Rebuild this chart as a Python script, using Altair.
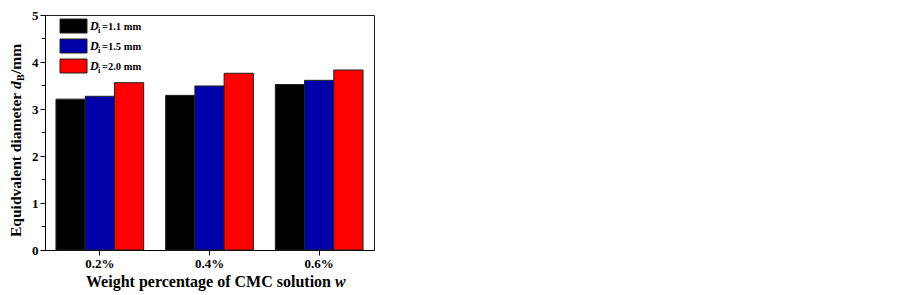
import altair as alt
import pandas as pd

# ---- data ----
categories = ["0.2%", "0.4%", "0.6%"]
series = ["1.1", "1.5", "2.0"]
values_11 = [3.21, 3.29, 3.52]
values_15 = [3.27, 3.49, 3.61]
values_20 = [3.56, 3.76, 3.83]
colors = ["#000000", "#0000a8", "#ff0000"]
y_ticks = [0, 1, 2, 3, 4, 5]
y_minor = [0.5, 1.5, 2.5, 3.5, 4.5]

rows = []
for s, vals in zip(series, [values_11, values_15, values_20]):
    for c, v in zip(categories, vals):
        rows.append({"w": c, "D": s, "d": v})
df = pd.DataFrame(rows)

FONT = "Liberation Serif"
W, H = 329, 235
TOP = 7  # plot top sits at page y = 8 + TOP

y_axis = alt.Axis(title=None, values=y_ticks, tickSize=5, labelPadding=2,
                  labelFontSize=13, labelFont=FONT, labelFontWeight="bold",
                  labelColor="black", domainColor="black", tickColor="black",
                  grid=False)
y_scale = alt.Scale(domain=[0, 5], nice=False)

bars = alt.Chart(df).mark_bar(stroke="#222222", strokeWidth=1).encode(
    x=alt.X("w:N", sort=categories,
            scale=alt.Scale(paddingInner=0.2, paddingOuter=0.1),
            axis=alt.Axis(title=None, labelAngle=0, tickSize=5, labelPadding=2,
                          labelFontSize=13, labelFont=FONT, labelFontWeight="bold",
                          labelColor="black", domainColor="black", tickColor="black")),
    xOffset=alt.XOffset("D:N", sort=series,
                        scale=alt.Scale(paddingInner=0, paddingOuter=0)),
    y=alt.Y("d:Q", scale=y_scale, axis=y_axis),
    color=alt.Color("D:N", scale=alt.Scale(domain=series, range=colors), legend=None),
)

minor = alt.Chart(pd.DataFrame({"d": y_minor})).mark_rule(color="black", strokeWidth=1).encode(
    y=alt.Y("d:Q", scale=y_scale, axis=y_axis),
    x=alt.value(-3),
    x2=alt.value(0),
)

layers = [bars, minor]

# ---- hand-built legend ----
for i, (s, col) in enumerate(zip(series, colors)):
    y0 = 4 + 20 * i
    layers.append(
        alt.Chart(pd.DataFrame({"k": [s]})).mark_rect(fill=col, stroke="#222222", strokeWidth=1).encode(
            x=alt.value(15), x2=alt.value(42), y=alt.value(y0), y2=alt.value(y0 + 14)))
    layers.append(
        alt.Chart(pd.DataFrame({"t": ["D"]})).mark_text(
            font=FONT, fontSize=12, fontWeight="bold", fontStyle="italic",
            align="left", baseline="alphabetic", color="black").encode(
            text="t:N", x=alt.value(45), y=alt.value(y0 + 11)))
    layers.append(
        alt.Chart(pd.DataFrame({"t": ["i"]})).mark_text(
            font=FONT, fontSize=8.5, fontWeight="bold",
            align="left", baseline="alphabetic", color="black").encode(
            text="t:N", x=alt.value(53), y=alt.value(y0 + 14)))
    layers.append(
        alt.Chart(pd.DataFrame({"t": ["=" + s + " mm"]})).mark_text(
            font=FONT, fontSize=10.5, fontWeight="bold",
            align="left", baseline="alphabetic", color="black").encode(
            text="t:N", x=alt.value(57), y=alt.value(y0 + 11)))

# ---- y-axis title with subscript ----
def ytext(t, x, y, size=15.5, style="normal"):
    return alt.Chart(pd.DataFrame({"t": [t]})).mark_text(
        font=FONT, fontSize=size, fontWeight="bold", fontStyle=style, angle=270,
        align="left", baseline="alphabetic", color="black").encode(
        text="t:N", x=alt.value(x), y=alt.value(y))

layers += [
    ytext("Equidvalent diameter", -24, 222),
    ytext("d", -24, 74, style="italic"),
    ytext("B", -21, 66, size=10),
    ytext("/mm", -24, 59),
]

# ---- x-axis title ----
layers += [
    alt.Chart(pd.DataFrame({"t": ["Weight percentage of CMC solution"]})).mark_text(
        font=FONT, fontSize=16, fontWeight="bold", align="right",
        baseline="alphabetic", color="black").encode(
        text="t:N", x=alt.value(286), y=alt.value(272)),
    alt.Chart(pd.DataFrame({"t": ["w"]})).mark_text(
        font=FONT, fontSize=16, fontWeight="bold", fontStyle="italic", align="left",
        baseline="alphabetic", color="black").encode(
        text="t:N", x=alt.value(290), y=alt.value(272)),
]

chart = alt.layer(*layers).properties(
    width=W, height=H,
    autosize=alt.AutoSizeParams(type="none"),
    padding={"left": 37, "top": TOP, "right": 20, "bottom": 42},
    background="white",
).configure_view(stroke="#222222", strokeWidth=1)

chart.save("out.html", embed_options={"renderer": "svg", "actions": False})
